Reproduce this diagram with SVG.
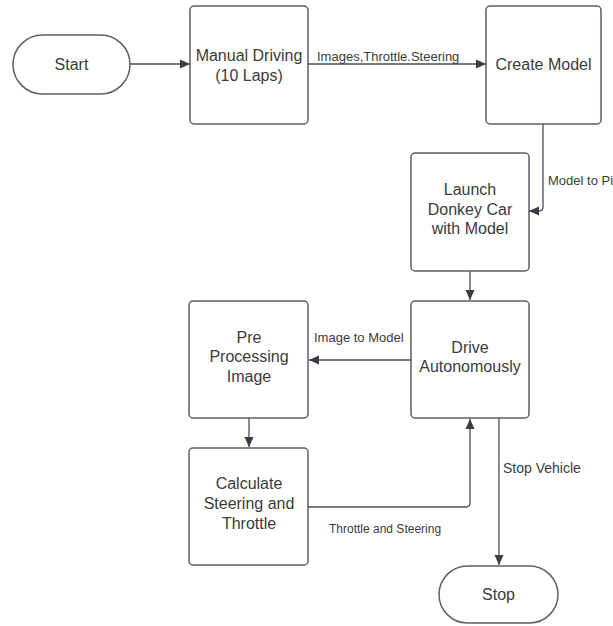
<svg xmlns="http://www.w3.org/2000/svg" width="613" height="626" viewBox="0 0 613 626">
<defs>
<marker id="ah" viewBox="0 0 10 10" refX="10" refY="5" markerWidth="10" markerHeight="10" markerUnits="userSpaceOnUse" orient="auto">
<path d="M0,0.5 L10,5 L0,9.5 z" fill="#3a3d44"/>
</marker>
<style>
.n{fill:#fff;stroke:#5b6068;stroke-width:1.5}
.t{font-family:"Liberation Sans",Arial,sans-serif;font-size:16px;fill:#3b3b3b;text-anchor:middle;dominant-baseline:central}
.c{fill:none;stroke:#4a4e55;stroke-width:1.3;marker-end:url(#ah)}
.l{font-family:"Liberation Sans",Arial,sans-serif;font-size:13px;fill:#3b3b3b;dominant-baseline:central}
</style>
</defs>
<rect width="613" height="626" fill="#fff"/>
<g id="connectors">
<path class="c" d="M130,64 H190"/>
<path class="c" d="M308,64 H486"/>
<path class="c" d="M543,124 V207 Q543,211 539,211 H529"/>
<path class="c" d="M470,271 V300"/>
<path class="c" d="M411,360 H309"/>
<path class="c" d="M249,418 V447"/>
<path class="c" d="M308,507 H466 Q470,507 470,503 V419"/>
<path class="c" d="M499,418 V565"/>
<text class="l" x="317" y="56">Images,Throttle.Steering</text>
<text class="l" x="548" y="180">Model to Pi</text>
<text class="l" x="314" y="337">Image to Model</text>
<text class="l" x="329" y="529" style="font-size:12px">Throttle and Steering</text>
<text class="l" x="503" y="468" style="font-size:14px">Stop Vehicle</text>
</g>
<g id="start"><rect class="n" x="13" y="35" width="117" height="59" rx="29.5"/><text class="t" x="71.5" y="64.5">Start</text></g>
<g id="manual"><rect class="n" x="190" y="6" width="118" height="118" rx="4"/><text class="t" x="249" y="55">Manual Driving</text><text class="t" x="249" y="75">(10 Laps)</text></g>
<g id="create"><rect class="n" x="486" y="6" width="115" height="118" rx="4"/><text class="t" x="543.5" y="64">Create Model</text></g>
<g id="launch"><rect class="n" x="411" y="153" width="118" height="118" rx="4"/><text class="t" x="470" y="189">Launch</text><text class="t" x="470" y="209">Donkey Car</text><text class="t" x="470" y="228">with Model</text></g>
<g id="drive"><rect class="n" x="411" y="301" width="118" height="117" rx="4"/><text class="t" x="470" y="347">Drive</text><text class="t" x="470" y="366">Autonomously</text></g>
<g id="pre"><rect class="n" x="189" y="301" width="119" height="117" rx="4"/><text class="t" x="249" y="337">Pre</text><text class="t" x="249" y="356">Processing</text><text class="t" x="249" y="376">Image</text></g>
<g id="calc"><rect class="n" x="189" y="448" width="119" height="117" rx="4"/><text class="t" x="249" y="483">Calculate</text><text class="t" x="249" y="503">Steering and</text><text class="t" x="249" y="523">Throttle</text></g>
<g id="stop"><rect class="n" x="439" y="566" width="119" height="57" rx="28.5"/><text class="t" x="498.5" y="594.5">Stop</text></g>
</svg>
